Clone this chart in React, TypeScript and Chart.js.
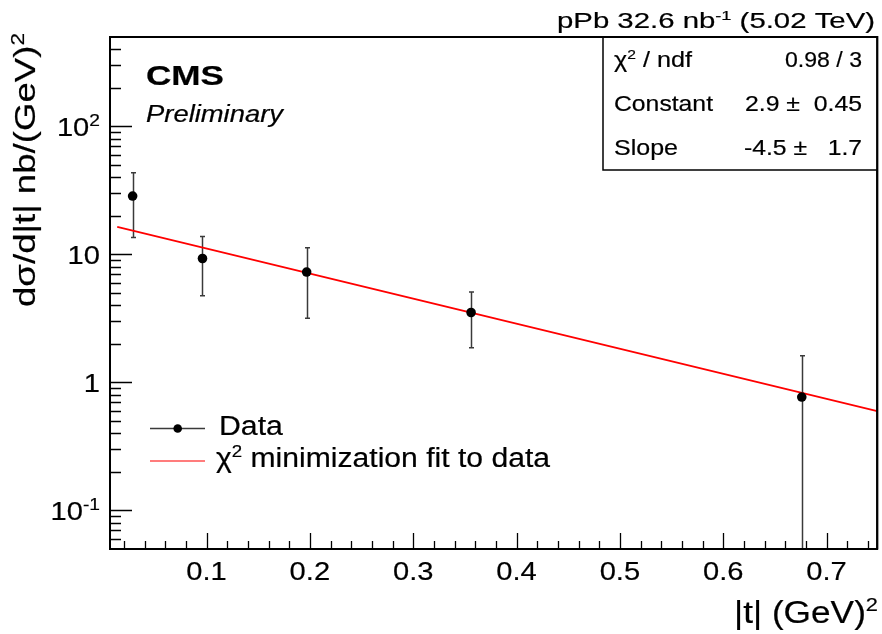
import { useEffect, useRef } from "react";
import { Chart, registerables } from "chart.js";
Chart.register(...registerables);

// ---- data ----
const tValues = [0.0285, 0.0961, 0.1969, 0.356, 0.676];
const xsecValues = [28.6, 9.3, 7.29, 3.52, 0.769];
const xsecErrHigh = [43.5, 13.8, 11.3, 5.08, 1.62];
const xsecErrLow = [13.6, 4.76, 3.18, 1.87, 0.001];
const fitT = [0.0136, 0.749];
const fitXsec = [16.4, 0.598];

const xMajorTicks = [0.1, 0.2, 0.3, 0.4, 0.5, 0.6, 0.7];
const xTickLabels = ["0.1", "0.2", "0.3", "0.4", "0.5", "0.6", "0.7"];
const yMajorTicks = [0.1, 1, 10, 100];
const yTickBase = ["10", "1", "10", "10"];
const yTickExp = ["-1", "", "", "2"];

const statsNames = ["χ", "Constant", "Slope"];
const statsValues = ["0.98 / 3", "2.9 ±  0.45", "-4.5 ±   1.7"];

const X_MIN = 0.0066;
const X_MAX = 0.749;
const Y_MIN = 0.05;
const Y_MAX = 500;

type Seg = { t: string; sup?: boolean };
type TxtOpts = {
  align?: "left" | "right" | "center";
  sx?: number;
  width?: number;
  weight?: string;
  style?: string;
  color?: string;
  supScale?: number;
  bold?: number;
};

const FAM = '"Liberation Sans", Arial, sans-serif';

function drawRich(ctx: CanvasRenderingContext2D, segs: Seg[], x: number, y: number, size: number, o: TxtOpts = {}) {
  const supSize = size * (o.supScale || 0.62);
  const font = (s: number) => `${o.style || "normal"} ${o.weight || "normal"} ${s}px ${FAM}`;
  let w = 0;
  const ws = segs.map((sg) => {
    ctx.font = font(sg.sup ? supSize : size);
    const m = ctx.measureText(sg.t).width;
    w += m;
    return m;
  });
  const sx = o.width ? o.width / w : o.sx || 1;
  const total = w * sx;
  const align = o.align || "left";
  const start = align === "right" ? x - total : align === "center" ? x - total / 2 : x;
  const emb = o.bold === undefined ? 0.2 : o.bold;
  ctx.save();
  ctx.translate(start, y);
  ctx.scale(sx, 1);
  ctx.fillStyle = o.color || "#000";
  ctx.strokeStyle = o.color || "#000";
  ctx.lineWidth = emb;
  ctx.lineJoin = "round";
  ctx.textAlign = "left";
  ctx.textBaseline = "alphabetic";
  let cx = 0;
  segs.forEach((sg, i) => {
    ctx.font = font(sg.sup ? supSize : size);
    const yy = sg.sup ? -size * 0.38 : 0;
    ctx.fillText(sg.t, cx, yy);
    if (emb > 0) ctx.strokeText(sg.t, cx, yy);
    cx += ws[i];
  });
  ctx.restore();
}

const rootPlugin = {
  id: "rootStyle",
  beforeDatasetsDraw(chart: any) {
    const ctx: CanvasRenderingContext2D = chart.ctx;
    const xs = chart.scales.x;
    const ys = chart.scales.y;
    const a = chart.chartArea;
    ctx.save();
    ctx.beginPath();
    ctx.rect(a.left, a.top, a.right - a.left, a.bottom - a.top);
    ctx.clip();
    ctx.strokeStyle = "#3a3a3a";
    ctx.lineWidth = 1.5;
    tValues.forEach((t, i) => {
      const px = Math.round(xs.getPixelForValue(t)) + 0.5;
      const hi = ys.getPixelForValue(xsecErrHigh[i]);
      const lo = ys.getPixelForValue(Math.max(xsecErrLow[i], Y_MIN * 0.1));
      ctx.beginPath();
      ctx.moveTo(px, hi);
      ctx.lineTo(px, lo);
      ctx.moveTo(px - 2.5, hi);
      ctx.lineTo(px + 2.5, hi);
      if (xsecErrLow[i] >= Y_MIN) {
        ctx.moveTo(px - 2.5, lo);
        ctx.lineTo(px + 2.5, lo);
      }
      ctx.stroke();
    });
    ctx.restore();
  },
  afterDraw(chart: any) {
    const ctx: CanvasRenderingContext2D = chart.ctx;
    const xs = chart.scales.x;
    const ys = chart.scales.y;
    const a = chart.chartArea;
    ctx.save();
    // frame
    ctx.strokeStyle = "#000";
    ctx.lineWidth = 2;
    ctx.strokeRect(a.left, a.top, a.right - a.left, a.bottom - a.top);

    // x ticks
    ctx.lineWidth = 1.3;
    ctx.beginPath();
    for (let k = 1; k * 0.02 <= X_MAX + 1e-9; k++) {
      const v = k * 0.02;
      if (v < X_MIN) continue;
      const px = Math.round(xs.getPixelForValue(v)) + 0.5;
      ctx.moveTo(px, a.bottom);
      ctx.lineTo(px, a.bottom - 8);
    }
    xMajorTicks.forEach((v) => {
      const px = Math.round(xs.getPixelForValue(v)) + 0.5;
      ctx.moveTo(px, a.bottom);
      ctx.lineTo(px, a.bottom - 16);
    });
    // y ticks
    for (let e = -2; e <= 3; e++) {
      for (let m = 2; m <= 9; m++) {
        const v = m * Math.pow(10, e);
        if (v <= Y_MIN * 1.001 || v >= Y_MAX * 0.999) continue;
        const py = Math.round(ys.getPixelForValue(v)) + 0.5;
        ctx.moveTo(a.left, py);
        ctx.lineTo(a.left + 11, py);
      }
    }
    yMajorTicks.forEach((v) => {
      const py = Math.round(ys.getPixelForValue(v)) + 0.5;
      ctx.moveTo(a.left, py);
      ctx.lineTo(a.left + 22, py);
    });
    ctx.stroke();

    // x tick labels
    xMajorTicks.forEach((v, i) => {
      drawRich(ctx, [{ t: xTickLabels[i] }], xs.getPixelForValue(v), 580, 26, { align: "center", sx: 1.12 });
    });
    // y tick labels
    yMajorTicks.forEach((v, i) => {
      const segs: Seg[] = [{ t: yTickBase[i] }];
      if (yTickExp[i]) segs.push({ t: yTickExp[i], sup: true });
      drawRich(ctx, segs, 100, ys.getPixelForValue(v) + 9.5, 26, { align: "right", sx: 1.12, supScale: 0.66 });
    });

    // axis titles
    drawRich(ctx, [{ t: "|t| (GeV)" }, { t: "2", sup: true }], 878, 623, 31, { align: "right", width: 144 });
    ctx.save();
    ctx.translate(35, 33);
    ctx.rotate(-Math.PI / 2);
    drawRich(ctx, [{ t: "dσ/d|t| nb/(GeV)" }, { t: "2", sup: true }], 0, 0, 30, { align: "right", width: 274 });
    ctx.restore();

    // top-right title
    drawRich(ctx, [{ t: "pPb 32.6 nb" }, { t: "-1", sup: true }, { t: " (5.02 TeV)" }], 875, 28, 22, {
      align: "right",
      width: 318,
    });

    // CMS labels
    drawRich(ctx, [{ t: "CMS" }], 146, 85, 28, { weight: "bold", width: 78, bold: 0.2 });
    drawRich(ctx, [{ t: "Preliminary" }], 146, 122, 23, { style: "italic", width: 137 });

    // stats box
    ctx.fillStyle = "#fff";
    ctx.fillRect(603, a.top, a.right - 603, 133);
    ctx.strokeStyle = "#000";
    ctx.lineWidth = 1.5;
    ctx.strokeRect(603, a.top, a.right - 603, 133);
    ctx.lineWidth = 2;
    ctx.beginPath();
    ctx.moveTo(a.left, a.top);
    ctx.lineTo(a.right, a.top);
    ctx.lineTo(a.right, a.bottom);
    ctx.stroke();
    const rowBase = [67, 111, 155];
    const sSize = 22;
    drawRich(ctx, [{ t: statsNames[0] }, { t: "2", sup: true }, { t: " / ndf" }], 614, rowBase[0], sSize, { width: 78 });
    drawRich(ctx, [{ t: statsNames[1] }], 614, rowBase[1], sSize, { width: 99 });
    drawRich(ctx, [{ t: statsNames[2] }], 614, rowBase[2], sSize, { width: 64 });
    drawRich(ctx, [{ t: statsValues[0] }], 862, rowBase[0], sSize, { align: "right", width: 77 });
    drawRich(ctx, [{ t: statsValues[1] }], 862, rowBase[1], sSize, { align: "right", width: 117 });
    drawRich(ctx, [{ t: statsValues[2] }], 862, rowBase[2], sSize, { align: "right", width: 118 });

    // legend
    ctx.strokeStyle = "#3a3a3a";
    ctx.lineWidth = 1.5;
    ctx.beginPath();
    ctx.moveTo(150, 428.5);
    ctx.lineTo(205, 428.5);
    ctx.stroke();
    ctx.fillStyle = "#000";
    ctx.beginPath();
    ctx.arc(177.7, 428.5, 4.3, 0, Math.PI * 2);
    ctx.fill();
    ctx.strokeStyle = "#ff5050";
    ctx.lineWidth = 1.5;
    ctx.beginPath();
    ctx.moveTo(150, 461);
    ctx.lineTo(205, 461);
    ctx.stroke();
    drawRich(ctx, [{ t: "Data" }], 219, 435, 27, { sx: 1.12 });
    drawRich(ctx, [{ t: "χ" }, { t: "2", sup: true }, { t: " minimization fit to data" }], 216, 467, 27, {
      width: 334,
    });
    ctx.restore();
  },
};

export default function App() {
  const ref = useRef<HTMLCanvasElement | null>(null);
  useEffect(() => {
    document.body.style.margin = "0";
    if (!ref.current) return;
    const chart = new Chart(ref.current, {
      type: "scatter",
      data: {
        datasets: [
          {
            label: "Data",
            data: tValues.map((t, i) => ({ x: t, y: xsecValues[i] })),
            pointRadius: 4.8,
            pointHoverRadius: 4.8,
            pointBackgroundColor: "#000",
            pointBorderColor: "#000",
            pointBorderWidth: 0,
            showLine: false,
          },
          {
            label: "χ2 minimization fit to data",
            data: fitT.map((t, i) => ({ x: t, y: fitXsec[i] })),
            showLine: true,
            borderColor: "#ff0000",
            borderWidth: 1.8,
            pointRadius: 0,
            pointHoverRadius: 0,
            fill: false,
          },
        ],
      },
      options: {
        animation: false,
        responsive: false,
        events: [],
        layout: { padding: { left: 110, top: 37, right: 3, bottom: 85 } },
        plugins: { legend: { display: false }, tooltip: { enabled: false } },
        scales: {
          x: { type: "linear", min: X_MIN, max: X_MAX, display: false },
          y: { type: "logarithmic", min: Y_MIN, max: Y_MAX, display: false },
        },
      },
      plugins: [rootPlugin],
    });
    return () => chart.destroy();
  }, []);
  return (
    <div style={{ width: 882, height: 634, background: "#fff" }}>
      <canvas ref={ref} width={882} height={634} style={{ display: "block" }} />
    </div>
  );
}
